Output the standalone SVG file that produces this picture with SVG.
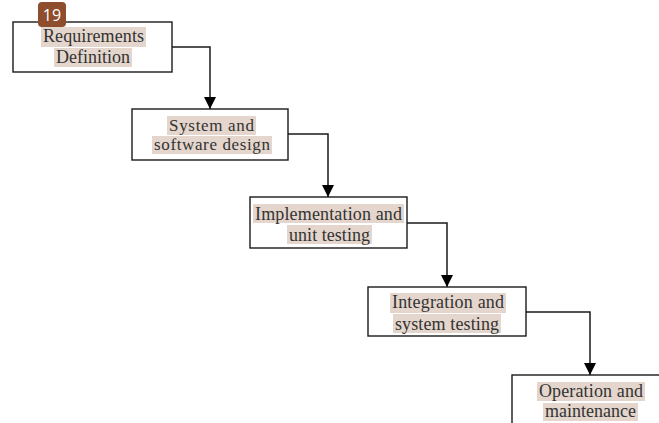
<svg xmlns="http://www.w3.org/2000/svg" width="659" height="423" viewBox="0 0 659 423">
<defs>
<style>
.box{fill:#fff;stroke:#1a1a1a;stroke-width:1.4}
.hl{fill:#e4d6cc}
.t{font-family:"Liberation Serif","Times New Roman",serif;font-size:18px;fill:#333;text-anchor:middle}
.s{font-size:17px}
.conn{fill:none;stroke:#1a1a1a;stroke-width:1.5}
</style>
<marker id="arr" markerWidth="12" markerHeight="12" viewBox="0 0 12 12" refX="12" refY="6" orient="auto" markerUnits="userSpaceOnUse">
<path d="M0,0 L12,6 L0,12 Z" fill="#000"/>
</marker>
</defs>
<rect width="659" height="423" fill="#fff"/>
<g id="connectors">
<path class="conn" d="M172,47 H210 V109" marker-end="url(#arr)"/>
<path class="conn" d="M288,134 H328 V197" marker-end="url(#arr)"/>
<path class="conn" d="M407,223 H447 V287" marker-end="url(#arr)"/>
<path class="conn" d="M526,312 H590 V375" marker-end="url(#arr)"/>
</g>
<g id="n1">
<rect class="box" x="13" y="22" width="159" height="50"/>
<rect class="hl" x="41" y="27" width="105" height="20"/>
<rect class="hl" x="54" y="48" width="78" height="19"/>
<text class="t" x="93.5" y="42" textLength="101" lengthAdjust="spacing">Requirements</text>
<text class="t" x="93" y="63" textLength="74" lengthAdjust="spacing">Definition</text>
</g>
<g id="n2">
<rect class="box" x="132" y="109" width="156" height="51"/>
<rect class="hl" x="167" y="116" width="89" height="19"/>
<rect class="hl" x="152" y="136" width="120" height="18"/>
<text class="t s" x="211.5" y="130.5" textLength="85" lengthAdjust="spacing">System and</text>
<text class="t s" x="212" y="150" textLength="116" lengthAdjust="spacing">software design</text>
</g>
<g id="n3">
<rect class="box" x="250" y="197" width="157" height="51"/>
<rect class="hl" x="253" y="204" width="151" height="19"/>
<rect class="hl" x="287" y="225" width="85" height="19"/>
<text class="t" x="328.5" y="220" textLength="147" lengthAdjust="spacing">Implementation and</text>
<text class="t" x="329.5" y="241" textLength="81" lengthAdjust="spacing">unit testing</text>
</g>
<g id="n4">
<rect class="box" x="368" y="287" width="158" height="49"/>
<rect class="hl" x="390" y="293" width="116" height="20"/>
<rect class="hl" x="393" y="314" width="108" height="19"/>
<text class="t" x="448" y="308" textLength="112" lengthAdjust="spacing">Integration and</text>
<text class="t" x="447" y="330" textLength="104" lengthAdjust="spacing">system testing</text>
</g>
<g id="n5">
<rect class="box" x="512" y="375" width="150" height="60"/>
<rect class="hl" x="537" y="382" width="108" height="19"/>
<rect class="hl" x="543" y="403" width="95" height="18"/>
<text class="t" x="591" y="397" textLength="104" lengthAdjust="spacing">Operation and</text>
<text class="t" x="590.5" y="417" textLength="91" lengthAdjust="spacing">maintenance</text>
</g>
<g id="badge">
<rect x="38" y="2" width="28" height="25" rx="4" fill="#8e4d2c"/>
<text x="52" y="21" font-family="Open Sans, sans-serif" font-size="16" fill="#fff" text-anchor="middle">19</text>
</g>
</svg>
